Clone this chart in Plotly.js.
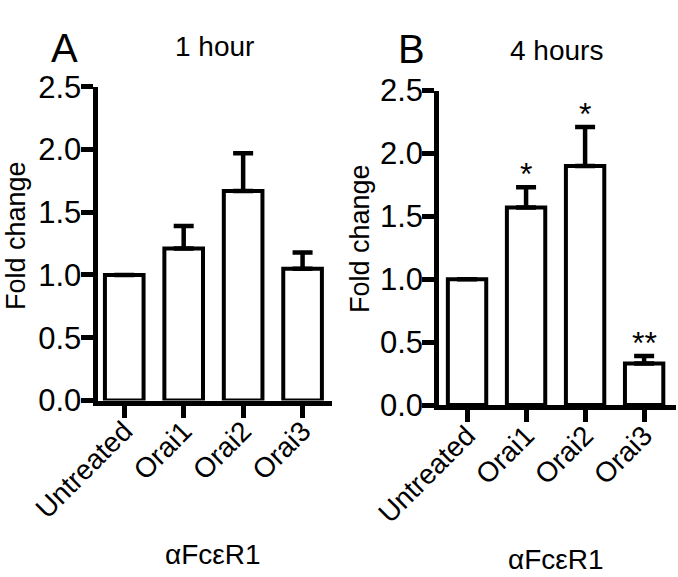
<!DOCTYPE html>
<html><head><meta charset="utf-8">
<script src="https://cdn.plot.ly/plotly-3.0.1.min.js"></script>
<style>html,body{margin:0;padding:0;background:#fff;} #chart{width:678px;height:577px;}</style>
</head><body><div id="chart"></div>
<script>
const categories = ['Untreated', 'Orai1', 'Orai2', 'Orai3'];
const oneHourMean = [1.00, 1.21, 1.67, 1.05];
const oneHourErr = [0, 0.18, 0.30, 0.13];
const fourHourMean = [1.00, 1.57, 1.90, 0.33];
const fourHourErr = [0, 0.16, 0.31, 0.06];
const noLowerErr = [0, 0, 0, 0];
const fourHourSig = ['', '*', '*', '**'];
const yTickVals = [0, 0.5, 1.0, 1.5, 2.0, 2.5];
const yTickText = ['0.0', '0.5', '1.0', '1.5', '2.0', '2.5'];
const panelTitles = ['1 hour', '4 hours'];
const panelLetters = ['A', 'B'];
const yTitle = 'Fold change';
const xTitle = 'αFcεR1';

const FONT = 'Liberation Sans, Arial, Helvetica, sans-serif';
const barStyle = {color: '#ffffff', line: {color: '#000000', width: 4}};
function errStyle(arr) {
  return {type: 'data', symmetric: false, array: arr, arrayminus: noLowerErr,
          color: '#000000', thickness: 4.5, width: 10, visible: true};
}

const traces = [
  {type: 'bar', x: categories, y: oneHourMean, xaxis: 'x', yaxis: 'y',
   width: 0.65, marker: barStyle, error_y: errStyle(oneHourErr), hoverinfo: 'skip'},
  {type: 'bar', x: categories, y: fourHourMean, xaxis: 'x2', yaxis: 'y2',
   width: 0.65, marker: barStyle, error_y: errStyle(fourHourErr), hoverinfo: 'skip'}
];

function xAxis(domain, range, anchor) {
  return {domain: domain, range: range, type: 'category', anchor: anchor,
    showline: true, linewidth: 5, linecolor: '#000',
    ticks: 'outside', ticklen: 12, tickwidth: 5, tickcolor: '#000',
    tickangle: -45, ticklabelstandoff: -14,
    tickfont: {family: FONT, size: 28, color: '#000'},
    showgrid: false, zeroline: false, fixedrange: true};
}
function yAxis(domain, anchor) {
  return {domain: domain, range: [0, 2.5], anchor: anchor,
    tickmode: 'array', tickvals: yTickVals, ticktext: yTickText,
    showline: true, linewidth: 5, linecolor: '#000',
    ticks: 'outside', ticklen: 12, tickwidth: 5, tickcolor: '#000',
    ticklabelstandoff: -7,
    tickfont: {family: FONT, size: 31, color: '#000'},
    showgrid: false, zeroline: false, fixedrange: true};
}

const annotations = [];
function txt(x, y, text, size, extra) {
  return Object.assign({xref: 'paper', yref: 'paper', x: x, y: y, text: text,
    showarrow: false, font: {family: FONT, size: size, color: '#000'}}, extra || {});
}
annotations.push(txt(64/678, 1 - 72/577, panelLetters[0], 40, {xanchor: 'center', yanchor: 'bottom'}));
annotations.push(txt(411/678, 1 - 72.5/577, panelLetters[1], 40, {xanchor: 'center', yanchor: 'bottom'}));
annotations.push(txt(214/678, 1 - 64/577, panelTitles[0], 28, {xanchor: 'center', yanchor: 'bottom'}));
annotations.push(txt(556/678, 1 - 68/577, panelTitles[1], 28, {xanchor: 'center', yanchor: 'bottom'}));
annotations.push(txt(16/678, 1 - 236/577, yTitle, 27, {xanchor: 'center', yanchor: 'middle', textangle: -90}));
annotations.push(txt(360/678, 1 - 239/577, yTitle, 27, {xanchor: 'center', yanchor: 'middle', textangle: -90}));
annotations.push(txt(213/678, 1 - 572/577, xTitle, 28, {xanchor: 'center', yanchor: 'bottom'}));
annotations.push(txt(556/678, 1 - 577/577, xTitle, 28, {xanchor: 'center', yanchor: 'bottom'}));
categories.forEach(function (c, i) {
  if (fourHourSig[i]) {
    annotations.push({xref: 'x2', yref: 'y2', x: c, y: fourHourMean[i] + fourHourErr[i],
      text: fourHourSig[i], showarrow: false, xanchor: 'center', yanchor: 'bottom', yshift: -7,
      font: {family: FONT, size: 32, color: '#000'}});
  }
});

const layout = {
  width: 678, height: 577,
  margin: {l: 0, r: 0, t: 0, b: 0},
  paper_bgcolor: '#fff', plot_bgcolor: '#fff',
  showlegend: false, bargap: 0.35,
  xaxis: xAxis([97.5/678, 332.3/678], [-0.45, 3.5], 'y'),
  yaxis: yAxis([1 - 400.5/577, 1 - 86.7/577], 'x'),
  xaxis2: xAxis([439.3/678, 676/678], [-0.47, 3.54], 'y2'),
  yaxis2: yAxis([1 - 405/577, 1 - 90.5/577], 'x2'),
  annotations: annotations
};

Plotly.newPlot('chart', traces, layout, {staticPlot: true, displayModeBar: false});
</script>
</body></html>
